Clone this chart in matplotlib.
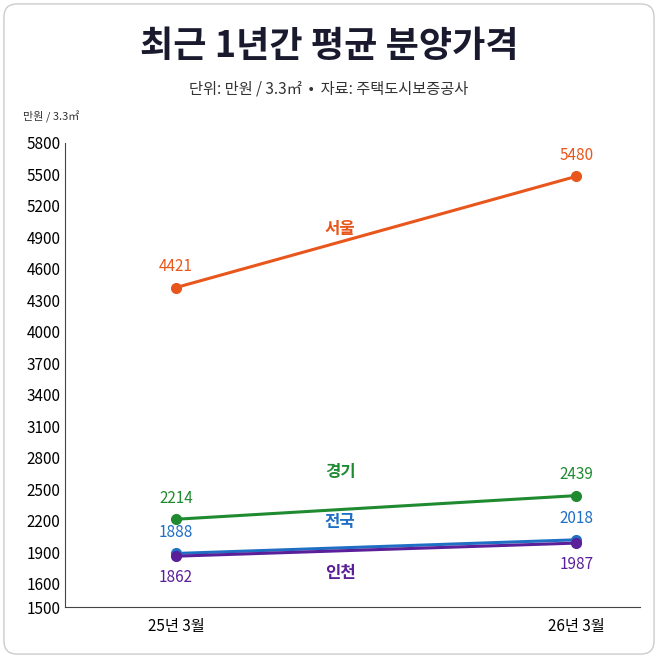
import matplotlib.pyplot as plt
import numpy as np
from matplotlib.patches import FancyBboxPatch

plt.rcParams['font.family'] = ['Noto Sans CJK KR', 'DejaVu Sans']

periods = ['25년 3월', '26년 3월']
regions = ['서울', '경기', '전국', '인천']
seoul = [4421, 5480]
gyeonggi = [2214, 2439]
national = [1888, 2018]
incheon = [1862, 1987]
yticks = [1500, 1600, 1900, 2200, 2500, 2800, 3100, 3400, 3700, 4000, 4300, 4600, 4900, 5200, 5500, 5800]
name_y = [4980, 2665, 2183, 1702]

colors = ['#e8561c', '#1f8a30', '#1f6fc4', '#5a1f99']
series = [seoul, gyeonggi, national, incheon]

# axis is stretched between 1500 and 1600 in the original
K = 2.22
def fwd(y):
    y = np.asarray(y, dtype=float)
    return np.where(y >= 1600, y, 1600 - (1600 - y) * K)
def inv(y):
    y = np.asarray(y, dtype=float)
    return np.where(y >= 1600, y, 1600 - (1600 - y) / K)

fig = plt.figure(figsize=(6.58, 6.58), dpi=100)
fig.patches.append(FancyBboxPatch((0.006, 0.006), 0.988, 0.988, boxstyle='round,pad=0,rounding_size=0.02',
                                  transform=fig.transFigure, fill=False, ec='#cccccc', lw=1))
ax = fig.add_axes([0.099, 0.0775, 0.874, 0.7055])
ax.set_yscale('function', functions=(fwd, inv))

xs = [0, 1]
for vals, c, name, ny in zip(series, colors, regions, name_y):
    ax.plot(xs, vals, color=c, lw=2.2, marker='o', ms=7, zorder=3)
    below = name == '인천'
    for x, v in zip(xs, vals):
        ax.annotate(str(v), (x, v), xytext=(0, -9 if below else 9), textcoords='offset points',
                    ha='center', va='top' if below else 'bottom', color=c, fontsize=11, fontweight='medium')
    ax.text(0.41, ny, name, color=c, fontsize=12, ha='center', va='center', fontweight='bold')

ax.set_xlim(-0.277, 1.16)
ax.set_ylim(1500, 5800)
ax.set_yticks(yticks)
ax.set_yticklabels([str(t) for t in yticks])
ax.minorticks_off()
ax.set_xticks(xs)
ax.set_xticklabels(periods, fontsize=11)
ax.tick_params(axis='y', labelsize=11, length=0)
ax.tick_params(axis='x', length=0, pad=8)
for s in ['top', 'right']:
    ax.spines[s].set_visible(False)
for s in ['left', 'bottom']:
    ax.spines[s].set_color('#444444')

fig.text(0.5, 0.93, '최근 1년간 평균 분양가격', ha='center', va='center', fontsize=26, fontweight='bold', color='#1a1a2e')
fig.text(0.5, 0.865, '단위: 만원 / 3.3㎡  •  자료: 주택도시보증공사', ha='center', va='center', fontsize=11, color='#333333')
fig.text(0.035, 0.823, '만원 / 3.3㎡', ha='left', va='center', fontsize=8, color='#333333')

fig.savefig('out.png', dpi=100)
